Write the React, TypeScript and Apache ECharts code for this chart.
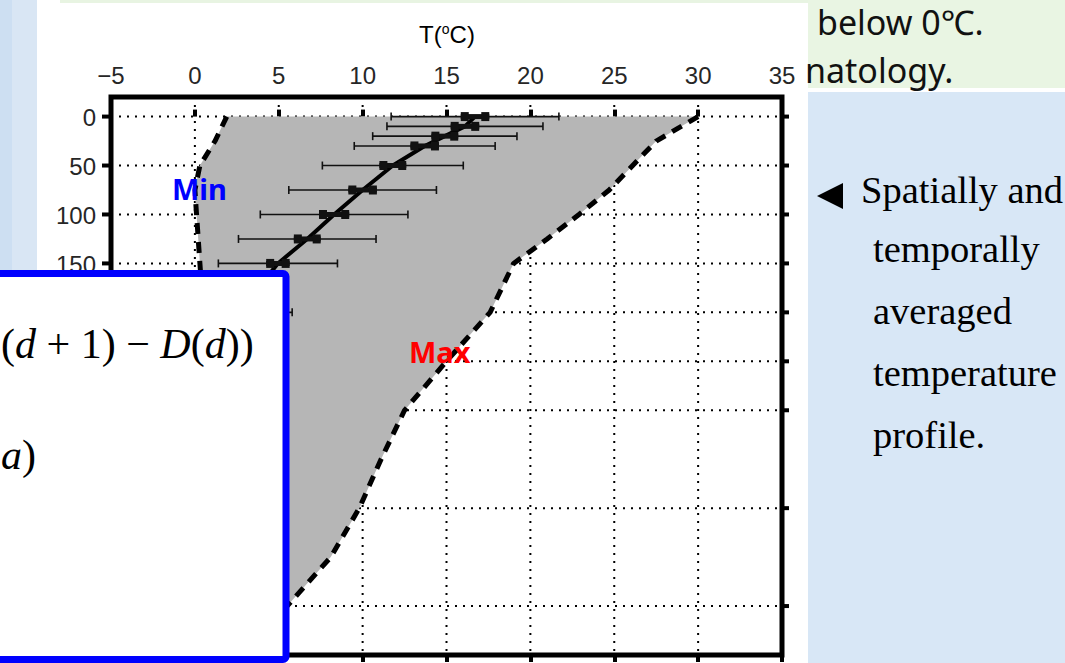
import React, { useEffect, useRef } from "react";
import * as echarts from "echarts";

// Averaged profile at standard depth levels (m): mean, standard deviation, standard error (°C)
const profileDepths = [0, 10, 20, 30, 50, 75, 100, 125, 150, 200];
const meanTemp = [16.7, 16.1, 14.9, 13.7, 11.8, 10.0, 8.3, 6.7, 4.95, 2.6];
const stdTemp = [5.0, 4.65, 4.3, 4.2, 4.2, 4.4, 4.4, 4.1, 3.55, 3.2];
const seTemp = [0.85, 0.85, 0.8, 0.85, 0.8, 0.85, 0.9, 0.8, 0.7, 0.7];

// Envelope of all observed temperatures (°C) with depth (m)
const envelopeDepths = [0, 25, 50, 75, 100, 125, 150, 175, 200, 250, 300, 350, 400, 450, 500, 550];
const maxTemp = [30.0, 27.5, 26.1, 24.7, 22.9, 21.0, 19.0, 18.3, 17.6, 15.0, 12.5, 11.1, 9.8, 8.1, 5.5, 3.3];
const minTemp = [1.9, 1.2, 0.3, 0.0, 0.1, 0.2, 0.3, 0.4, 0.4, 0.5, 0.6, 0.7, 0.8, 0.9, 1.0, 1.1];

// Axis ticks and grid
const tempGridValues = [0, 5, 10, 15, 20, 25, 30];
const depthTicks = [0, 50, 100, 150, 200, 250, 300, 400, 500];
const depthLabels = [0, 50, 100, 150];
const T_MIN = -5;
const T_MAX = 35;
const D_MIN = -20;
const D_MAX = 550;

// Slide text beside the figure
const noteLines = ["Spatially and", "temporally", "averaged", "temperature", "profile."];

const AXIS_FONT = "'Liberation Sans', Arial, sans-serif";
const SERIF = "'Liberation Serif', 'Times New Roman', serif";
const SANS = "'Noto Sans', 'Noto Sans CJK KR', sans-serif";

export default function App() {
  const ref = useRef<HTMLDivElement>(null);

  useEffect(() => {
    if (!ref.current) return;
    const chart = echarts.init(ref.current, undefined, { renderer: "svg" });

    const dotted = { stroke: "#000", lineWidth: 2, lineDash: [2, 6] };

    const tempAxisBase = {
      type: "value" as const,
      min: T_MIN,
      max: T_MAX,
      interval: 5,
      axisLine: { show: false },
      axisTick: { show: true, inside: false, length: 7, lineStyle: { color: "#000", width: 4 } },
      splitLine: { show: false },
    };

    const option = {
      animation: false,
      backgroundColor: "#ffffff",
      grid: {
        left: 111,
        top: 97,
        width: 671,
        height: 558,
        show: true,
        borderColor: "#000",
        borderWidth: 5,
        backgroundColor: "transparent",
      },
      xAxis: [
        {
          ...tempAxisBase,
          position: "top",
          axisLabel: {
            show: true,
            margin: 10,
            fontSize: 24,
            fontFamily: AXIS_FONT,
            color: "#262626",
            formatter: (v: number) => (v < 0 ? "\u2212" + Math.abs(v) : String(v)),
          },
        },
        {
          ...tempAxisBase,
          position: "bottom",
          axisLabel: { show: false },
        },
      ],
      yAxis: {
        type: "value",
        inverse: true,
        min: D_MIN,
        max: D_MAX,
        show: false,
      },
      series: [
        {
          // horizontal dotted grid lines at the depth ticks
          type: "custom",
          z: 1,
          silent: true,
          data: depthTicks.map((d) => [T_MIN, d]),
          renderItem: (_p: any, api: any) => {
            const d = api.value(1);
            const a = api.coord([T_MIN, d]);
            const b = api.coord([T_MAX, d]);
            return {
              type: "line",
              shape: { x1: a[0], y1: a[1], x2: b[0], y2: b[1] },
              style: dotted,
            };
          },
        },
        {
          // vertical dotted grid lines
          type: "custom",
          z: 1,
          silent: true,
          data: tempGridValues.map((t) => [t, D_MIN]),
          renderItem: (_p: any, api: any) => {
            const t = api.value(0);
            const a = api.coord([t, D_MIN]);
            const b = api.coord([t, D_MAX]);
            return {
              type: "line",
              shape: { x1: a[0], y1: a[1], x2: b[0], y2: b[1] },
              style: dotted,
            };
          },
        },
        {
          // depth ticks on both sides of the frame
          type: "custom",
          z: 6,
          silent: true,
          data: depthTicks.map((d) => [T_MIN, d]),
          renderItem: (_p: any, api: any) => {
            const d = api.value(1);
            const a = api.coord([T_MIN, d]);
            const b = api.coord([T_MAX, d]);
            return {
              type: "group",
              children: [
                { type: "line", shape: { x1: a[0] - 9, y1: a[1], x2: a[0], y2: a[1] }, style: { stroke: "#000", lineWidth: 4 } },
                { type: "line", shape: { x1: b[0], y1: b[1], x2: b[0] + 7, y2: b[1] }, style: { stroke: "#000", lineWidth: 4 } },
              ],
            };
          },
        },
        {
          // depth labels on the left
          type: "custom",
          z: 6,
          silent: true,
          data: depthLabels.map((d) => [T_MIN, d]),
          renderItem: (_p: any, api: any) => {
            const d = api.value(1);
            const a = api.coord([T_MIN, d]);
            return {
              type: "text",
              style: {
                text: String(d),
                x: a[0] - 15,
                y: a[1] + 1,
                align: "right",
                verticalAlign: "middle",
                fontSize: 24,
                fontFamily: AXIS_FONT,
                fill: "#262626",
              },
            };
          },
        },
        {
          // shaded range between the minimum and maximum temperature
          type: "custom",
          z: 2,
          silent: true,
          data: [[0, 0]],
          renderItem: (_p: any, api: any) => {
            const right = envelopeDepths.map((d, i) => api.coord([maxTemp[i], d]));
            const left = envelopeDepths.map((d, i) => api.coord([minTemp[i], d])).reverse();
            return {
              type: "polygon",
              shape: { points: right.concat(left) },
              style: { fill: "#b6b6b6" },
            };
          },
        },
        {
          name: "Max",
          type: "line",
          z: 3,
          symbol: "none",
          data: envelopeDepths.map((d, i) => [maxTemp[i], d]),
          lineStyle: { color: "#000", width: 5, type: [11, 8] },
        },
        {
          name: "Min",
          type: "line",
          z: 3,
          symbol: "none",
          data: envelopeDepths.map((d, i) => [minTemp[i], d]),
          lineStyle: { color: "#000", width: 5, type: [11, 8] },
        },
        {
          name: "Mean",
          type: "line",
          z: 4,
          symbol: "none",
          data: profileDepths.map((d, i) => [meanTemp[i], d]),
          lineStyle: { color: "#000", width: 4 },
        },
        {
          // error bars: thin = standard deviation, thick = standard error
          type: "custom",
          z: 5,
          silent: true,
          data: profileDepths.map((d, i) => [meanTemp[i], d, stdTemp[i], seTemp[i]]),
          renderItem: (_p: any, api: any) => {
            const t = api.value(0);
            const d = api.value(1);
            const s = api.value(2);
            const e = api.value(3);
            const lo = api.coord([t - s, d]);
            const hi = api.coord([t + s, d]);
            const a = api.coord([t - e, d]);
            const b = api.coord([t + e, d]);
            const y = lo[1];
            const ink = "#111";
            return {
              type: "group",
              children: [
                { type: "line", shape: { x1: lo[0], y1: y, x2: hi[0], y2: y }, style: { stroke: ink, lineWidth: 1.6 } },
                { type: "line", shape: { x1: lo[0], y1: y - 4, x2: lo[0], y2: y + 4 }, style: { stroke: ink, lineWidth: 1.6 } },
                { type: "line", shape: { x1: hi[0], y1: y - 4, x2: hi[0], y2: y + 4 }, style: { stroke: ink, lineWidth: 1.6 } },
                { type: "rect", shape: { x: a[0], y: y - 2.5, width: b[0] - a[0], height: 5 }, style: { fill: ink } },
                { type: "rect", shape: { x: a[0], y: y - 4.5, width: 8, height: 9 }, style: { fill: ink } },
                { type: "rect", shape: { x: b[0] - 8, y: y - 4.5, width: 8, height: 9 }, style: { fill: ink } },
              ],
            };
          },
        },
      ],
      graphic: [
        // slide background around the figure
        { type: "rect", z: -10, shape: { x: 0, y: 0, width: 37, height: 663 }, style: { fill: "#d9e6f4" } },
        { type: "rect", z: -10, shape: { x: 0, y: 0, width: 12, height: 663 }, style: { fill: "#cddff2" } },
        { type: "rect", z: -10, shape: { x: 60, y: 0, width: 748, height: 3 }, style: { fill: "#e8f4e2" } },
        { type: "rect", z: -10, shape: { x: 808, y: 0, width: 257, height: 88 }, style: { fill: "#e9f5e3" } },
        { type: "rect", z: -10, shape: { x: 808, y: 92, width: 257, height: 571 }, style: { fill: "#d8e7f6" } },
        {
          type: "text",
          z: -9,
          style: { text: "below 0\u2103.", x: 817, y: 22, verticalAlign: "middle", fontSize: 34, fontFamily: SANS, fill: "#111" },
        },
        {
          type: "text",
          z: -9,
          style: { text: "natology.", x: 805, y: 70, verticalAlign: "middle", fontSize: 34, fontFamily: SANS, fill: "#111" },
        },
        { type: "polygon", z: -9, shape: { points: [[817, 196], [843, 183], [843, 209]] }, style: { fill: "#000" } },
        ...noteLines.map((line, i) => ({
          type: "text",
          z: -9,
          style: {
            text: line,
            x: i === 0 ? 861 : 873,
            y: i === 0 ? 190 : 249 + (i - 1) * 62,
            verticalAlign: "middle",
            fontSize: 38.5,
            fontFamily: SERIF,
            fill: "#000",
          },
        })),
        // axis title
        {
          type: "text",
          z: 10,
          style: {
            text: "{a|T(}{s|o}{a|C)}",
            x: 447,
            y: 34,
            align: "center",
            verticalAlign: "middle",
            rich: {
              a: { fontSize: 24, fontFamily: AXIS_FONT, color: "#262626" },
              s: { fontSize: 14, fontFamily: AXIS_FONT, color: "#262626", verticalAlign: "top", padding: [0, 0, 11, 0] },
            },
          },
        },
        // envelope labels
        {
          type: "text",
          z: 10,
          style: { text: "Min", x: 172, y: 188, verticalAlign: "middle", fontSize: 29, fontWeight: "bold", fontFamily: SANS, fill: "#0000ff" },
        },
        {
          type: "text",
          z: 10,
          style: { text: "Max", x: 409, y: 351, verticalAlign: "middle", fontSize: 29, fontWeight: "bold", fontFamily: SANS, fill: "#ff0000" },
        },
        // formula panel laid over the lower-left corner
        {
          type: "rect",
          z: 100,
          shape: { x: -10, y: 273.5, width: 296, height: 386, r: 3 },
          style: { fill: "#ffffff", stroke: "#0000ff", lineWidth: 7 },
        },
        {
          type: "text",
          z: 101,
          style: {
            text: "{p|(}{i|d}{o| + }{n|1}{p|)}{o| \u2212 }{i|D}{p|(}{i|d}{p|))}",
            x: 1,
            y: 344,
            verticalAlign: "middle",
            rich: {
              p: { fontSize: 42, fontFamily: SERIF, color: "#7a5230" },
              i: { fontSize: 42, fontFamily: SERIF, fontStyle: "italic", color: "#1c1c30" },
              n: { fontSize: 42, fontFamily: SERIF, color: "#1c1c30" },
              o: { fontSize: 42, fontFamily: SERIF, color: "#1c1c30" },
            },
          },
        },
        {
          type: "text",
          z: 101,
          style: {
            text: "{i|a}{p|)}",
            x: 1,
            y: 455,
            verticalAlign: "middle",
            rich: {
              p: { fontSize: 42, fontFamily: SERIF, color: "#7a5230" },
              i: { fontSize: 42, fontFamily: SERIF, fontStyle: "italic", color: "#1c1c30" },
            },
          },
        },
      ],
    };

    chart.setOption(option as any);
    return () => chart.dispose();
  }, []);

  return (
    <div
      ref={ref}
      style={{ position: "fixed", left: 0, top: 0, width: 1065, height: 663 }}
    />
  );
}
